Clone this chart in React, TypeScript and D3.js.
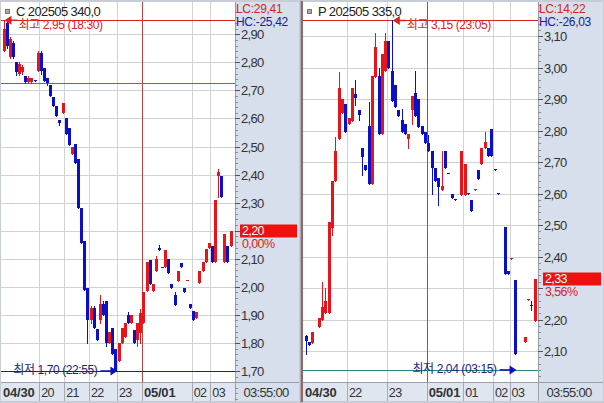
import * as d3 from "d3";

const FONT = "'Liberation Sans', 'Noto Sans CJK KR', sans-serif";
const UP = "#e8141b";
const DOWN = "#0a10c8";
const NAVY = "#1b2580";
const GRID = "#d2d2d2";
const AXIS_BG = "#d6dfeb";
const INK = "#333";

// ---- left: C 202505 340.0 (one bar per slot) ----
const leftOpen = [
  2.84, 2.94, 2.82, 2.87, 2.8, 2.76, 2.765, 2.75, 2.73, 2.73, 2.737, 2.77, 2.835, 2.78, 2.745, 2.72,
  2.675, 2.645, 2.593, 2.62, 2.6, 2.565, 2.475, 2.51, 2.455, 2.28, 2.165, 1.995, 1.88, 1.925, 1.85,
  1.88, 1.94, 1.95, 1.8, 1.855, 1.78, 1.735, 1.8, 1.82, 1.9, 1.87, 1.845, 1.81, 1.835, 1.87, 1.985,
  2.095, 1.985, 2.055, 2.14, 2.072, 2.07, 2.1, 2.01, 1.97, 2.02, 2.085, 1.995, 2.023, 1.94, 1.915,
  1.89, 2.015, 2.055, 2.09, 2.14, 2.145, 2.09, 2.395, 2.395, 2.09, 2.145, 2.145,
];
const leftHigh = [
  2.95, 2.95, 2.89, 2.875, 2.8, 2.8, 2.79, 2.75, 2.75, 2.745, 2.737, 2.84, 2.84, 2.78, 2.745, 2.72,
  2.675, 2.645, 2.593, 2.655, 2.6, 2.565, 2.5, 2.51, 2.455, 2.28, 2.165, 1.995, 1.93, 1.93, 1.85,
  1.97, 1.95, 1.95, 1.84, 1.855, 1.78, 1.8, 1.855, 1.87, 1.91, 1.9, 1.845, 1.87, 1.92, 1.98, 2.09,
  2.095, 2.01, 2.11, 2.15, 2.072, 2.13, 2.1, 2.01, 1.98, 2.055, 2.085, 1.995, 2.025, 1.94, 1.915,
  1.91, 2.055, 2.09, 2.135, 2.155, 2.145, 2.31, 2.42, 2.395, 2.19, 2.145, 2.2,
];
const leftLow = [
  2.84, 2.85, 2.815, 2.815, 2.755, 2.755, 2.76, 2.725, 2.725, 2.725, 2.733, 2.77, 2.76, 2.735, 2.72,
  2.68, 2.645, 2.61, 2.575, 2.62, 2.545, 2.505, 2.475, 2.44, 2.28, 2.155, 1.99, 1.8, 1.87, 1.855,
  1.81, 1.87, 1.9, 1.79, 1.8, 1.76, 1.7, 1.735, 1.8, 1.82, 1.87, 1.87, 1.8, 1.79, 1.8, 1.87, 1.985,
  2.01, 1.985, 2.055, 2.13, 2.07, 2.07, 2.05, 1.995, 1.935, 2.02, 2.07, 1.98, 2.023, 1.925, 1.88,
  1.89, 2.015, 2.055, 2.09, 2.14, 2.09, 2.09, 2.32, 2.32, 2.09, 2.09, 2.145,
];
const leftClose = [
  2.92, 2.86, 2.885, 2.82, 2.765, 2.795, 2.785, 2.73, 2.745, 2.745, 2.733, 2.835, 2.77, 2.735, 2.725,
  2.68, 2.645, 2.61, 2.585, 2.655, 2.545, 2.505, 2.5, 2.44, 2.28, 2.155, 1.99, 1.88, 1.925, 1.855,
  1.81, 1.94, 1.9, 1.8, 1.84, 1.76, 1.7, 1.8, 1.855, 1.87, 1.87, 1.9, 1.8, 1.87, 1.905, 1.98, 2.09,
  2.01, 2.01, 2.1, 2.13, 2.07, 2.13, 2.05, 1.995, 1.935, 2.055, 2.07, 1.98, 2.025, 1.925, 1.88, 1.91,
  2.055, 2.09, 2.135, 2.155, 2.09, 2.31, 2.41, 2.32, 2.19, 2.09, 2.2,
];
const leftTicks = [1.7, 1.8, 1.9, 2.0, 2.1, 2.2, 2.3, 2.4, 2.5, 2.6, 2.7, 2.8, 2.9];
const leftHourLabels = ["04/30", "20", "21", "22", "23", "05/01", "02", "03"];
const leftHourIndex = [0, 12, 20, 28, 37, 45, 61, 67];

// ---- right: P 202505 335.0 (null = no trade in that slot) ----
const rightOpen = [
  2.148, 2.13, 2.125, null, 2.175, 2.2, 2.22, 2.22, 2.49, 2.64, 2.775, 2.855, 2.885, 2.82, 2.83,
  2.915, 2.865, 2.745, 2.69, 2.815, 2.63, 2.97, 2.975, 2.79, 2.99, 3.085, 2.99, 2.945, 2.865, 2.835,
  2.82, 2.775, 2.865, 2.92, 2.9, 2.815, 2.795, 2.76, 2.735, 2.68, 2.65, 2.61, 2.735, 2.667, 2.6,
  2.582, null, 2.595, 2.595, 2.602, 2.58, 2.613, 2.675, 2.695, 2.745, 2.745, 2.805, 2.677, 2.602,
  null, 2.495, 2.355, 2.393, 2.325, null, null, 2.13, 2.263, 2.247, 2.195,
];
const rightHigh = [
  2.15, 2.13, 2.16, null, 2.205, 2.32, 2.3, 2.51, 2.64, 2.78, 2.985, 2.9, 2.885, 2.84, 2.935, 2.96,
  2.865, 2.745, 2.69, 2.89, 2.975, 3.11, 3.0, 3.045, 3.11, 3.085, 3.15, 2.945, 2.865, 2.87, 2.82,
  2.79, 2.91, 2.99, 2.9, 2.815, 2.795, 2.785, 2.735, 2.68, 2.65, 2.735, 2.735, 2.667, 2.6, 2.582,
  null, 2.735, 2.695, 2.602, 2.58, 2.615, 2.675, 2.745, 2.795, 2.745, 2.805, 2.677, 2.602, null,
  2.495, 2.355, 2.395, 2.325, null, null, 2.145, 2.265, 2.26, 2.33,
];
const rightLow = [
  2.09, 2.12, 2.125, null, 2.175, 2.2, 2.22, 2.22, 2.47, 2.64, 2.775, 2.855, 2.795, 2.82, 2.83, 2.88,
  2.835, 2.66, 2.675, 2.63, 2.63, 2.97, 2.79, 2.79, 2.99, 3.0, 2.895, 2.875, 2.845, 2.795, 2.79,
  2.745, 2.82, 2.845, 2.81, 2.79, 2.76, 2.735, 2.6, 2.64, 2.565, 2.61, 2.68, 2.665, 2.585, 2.58,
  null, 2.595, 2.595, 2.6, 2.545, 2.613, 2.645, 2.695, 2.745, 2.72, 2.72, 2.675, 2.6, null, 2.345,
  2.345, 2.393, 2.09, null, null, 2.13, 2.263, 2.23, 2.195,
];
const rightClose = [
  2.132, 2.12, 2.16, null, 2.205, 2.24, 2.26, 2.51, 2.64, 2.735, 2.935, 2.9, 2.795, 2.84, 2.935,
  2.905, 2.85, 2.715, 2.675, 2.63, 2.975, 3.065, 2.79, 3.045, 3.085, 3.0, 2.895, 2.875, 2.845, 2.795,
  2.79, 2.79, 2.91, 2.845, 2.81, 2.79, 2.76, 2.735, 2.68, 2.64, 2.62, 2.625, 2.68, 2.665, 2.585,
  2.58, null, 2.735, 2.695, 2.6, 2.545, 2.615, 2.645, 2.745, 2.765, 2.72, 2.72, 2.675, 2.6, null,
  2.345, 2.345, 2.395, 2.09, null, null, 2.145, 2.265, 2.245, 2.33,
];
const rightTicks = [2.1, 2.2, 2.3, 2.4, 2.5, 2.6, 2.7, 2.8, 2.9, 3.0, 3.1];
const rightHourLabels = ["04/30", "22", "23", "05/01", "01", "02", "03"];
const rightHourIndex = [0, 13, 25, 37, 48, 57, 62];

const fmt = (v: number, d = 2) => v.toFixed(d).replace(".", ",");

type PanelProps = {
  title: string;
  lc: string;
  hc: string;
  open: (number | null)[];
  high: (number | null)[];
  low: (number | null)[];
  close: (number | null)[];
  ticks: number[];
  hourLabels: string[];
  hourIndex: number[];
  hi: { v: number; t: string; i: number };
  lo: { v: number; t: string; i: number };
  last: number;
  pct: string;
  base?: number;
  loColor: string;
  // layout
  left: number;
  plotRight: number;
  right: number;
  barRange: [number, number];
  yRange: [number, number];
};

function Panel(p: PanelProps) {
  const top = 2;
  const dateTop = 382;
  const bottom = 401;
  const x = d3.scaleLinear().domain([0, p.open.length - 1]).range(p.barRange);
  const y = d3
    .scaleLinear()
    .domain([p.ticks[0], p.ticks[p.ticks.length - 1]])
    .range(p.yRange);
  const hourX = (i: number) => (i === 0 ? p.left : x(i - 0.5));
  const minor = d3.range(p.ticks[0] - 0.1, p.ticks[p.ticks.length - 1] + 0.1, 0.02);
  const ax = p.plotRight;

  const yHi = y(p.hi.v);
  const yLo = y(p.lo.v);
  const hiTip = x(p.hi.i) + 1;
  const loTip = x(p.lo.i) + 2;
  const yLast = y(p.last);
  // the price box and its % line cover the tick labels under them
  const hidden = (t: number) => y(t) > yLast - 12 && y(t) < yLast + 22;

  return (
    <g fontFamily={FONT}>
      {/* backgrounds */}
      <rect x={p.left} y={top} width={ax - p.left} height={dateTop - top} fill="#fff" />
      <rect x={p.left} y={dateTop} width={p.right - p.left} height={bottom - dateTop} fill="#dfe6f0" />
      <rect x={ax} y={top} width={p.right - ax} height={bottom - top} fill={AXIS_BG} />

      {/* grid */}
      <g shapeRendering="crispEdges">
        {p.ticks.map((t) => (
          <line key={t} x1={p.left} x2={ax} y1={Math.round(y(t)) + 0.5} y2={Math.round(y(t)) + 0.5} stroke={GRID} />
        ))}
        {p.hourIndex.slice(1).map((i, k) => {
          const hx = Math.round(hourX(i)) + 0.5;
          const isDay = p.hourLabels[k + 1].includes("/");
          return (
            <g key={i}>
              <line x1={hx} x2={hx} y1={top} y2={dateTop} stroke={isDay ? "#b84444" : GRID} />
              <line x1={hx} x2={hx} y1={dateTop} y2={bottom} stroke="#a4a8b0" />
            </g>
          );
        })}
      </g>

      {/* reference lines */}
      <g shapeRendering="crispEdges">
        {p.base !== undefined && (
          <line x1={p.left} x2={ax} y1={Math.round(y(p.base)) + 0.5} y2={Math.round(y(p.base)) + 0.5} stroke="#2a9a2a" />
        )}
        <line x1={p.left} x2={ax} y1={Math.round(yHi) + 0.5} y2={Math.round(yHi) + 0.5} stroke="#d42424" />
        <line x1={p.left} x2={ax} y1={Math.round(yLo) + 0.5} y2={Math.round(yLo) + 0.5} stroke={p.loColor} />
      </g>

      {/* candles */}
      <g shapeRendering="crispEdges">
        {p.open.map((o, i) => {
          if (o == null) return null;
          const c = p.close[i] as number;
          const h = p.high[i] as number;
          const l = p.low[i] as number;
          const col = c > o ? UP : DOWN;
          const cx = Math.round(x(i));
          const yt = Math.round(y(Math.max(o, c)));
          const yb = Math.round(y(Math.min(o, c)));
          return (
            <g key={i}>
              <line x1={cx + 0.5} x2={cx + 0.5} y1={Math.round(y(h))} y2={Math.round(y(l)) + 1} stroke={col} />
              <rect x={cx - 1} y={yt} width={3} height={Math.max(1, yb - yt)} fill={col} />
            </g>
          );
        })}
      </g>

      {/* high / low annotations */}
      <polygon
        points={`${hiTip},${yHi} ${hiTip + 7},${yHi - 4.5} ${hiTip + 7},${yHi + 4.5}`}
        fill="#d42424"
      />
      <line x1={hiTip + 6} x2={hiTip + 13} y1={yHi} y2={yHi} stroke="#d42424" strokeWidth={1.5} />
      <text x={hiTip + 14} y={yHi + 9} fontSize={12} fill="#d42424" letterSpacing={-0.4}>
        {`최고 ${fmt(p.hi.v)} (${p.hi.t})`}
      </text>
      <text x={loTip - 20} y={yLo + 3} fontSize={12} fill={NAVY} textAnchor="end" letterSpacing={-0.4}>
        {`최저 ${fmt(p.lo.v)} (${p.lo.t})`}
      </text>
      <line x1={loTip - 17} x2={loTip - 6} y1={yLo} y2={yLo} stroke={DOWN} strokeWidth={1.5} />
      <polygon points={`${loTip},${yLo} ${loTip - 7},${yLo - 4.5} ${loTip - 7},${yLo + 4.5}`} fill={DOWN} />

      {/* y axis */}
      <line x1={ax + 0.5} x2={ax + 0.5} y1={top} y2={bottom} stroke="#9aa0aa" />
      <g shapeRendering="crispEdges">
        {minor.map((m) => (
          <line key={m} x1={ax} x2={ax + 3} y1={Math.round(y(m)) + 0.5} y2={Math.round(y(m)) + 0.5} stroke="#8a8f98" />
        ))}
      </g>
      {p.ticks.map((t) => (
        <g key={t}>
          <line x1={ax} x2={ax + 5} y1={Math.round(y(t)) + 0.5} y2={Math.round(y(t)) + 0.5} stroke="#555" />
          {!hidden(t) && (
            <text x={ax + 6} y={y(t) + 5} fontSize={13} fill={INK} letterSpacing={-0.7}>
              {fmt(t)}
            </text>
          )}
        </g>
      ))}

      {/* last price box */}
      <rect x={ax + 5} y={Math.round(yLast) - 6.5} width={p.right - ax - 7} height={13} fill="#f01010" />
      <text x={ax + 7} y={yLast + 4.5} fontSize={12.5} fill="#fff" letterSpacing={-0.6}>
        {fmt(p.last)}
      </text>
      <text x={ax + 7} y={yLast + 17.5} fontSize={12.5} fill="#e02020" letterSpacing={-0.6}>
        {p.pct}
      </text>

      {/* header */}
      <rect x={p.left + 4.5} y={9.5} width={4} height={4} fill="#aaa" stroke="#777" />
      <text x={p.left + 15} y={16} fontSize={13} fill="#222" letterSpacing={-0.6}>
        {p.title}
      </text>
      <text x={ax + 1} y={13} fontSize={12} fill="#d42424" letterSpacing={-0.3}>
        {p.lc}
      </text>
      <text x={ax + 1} y={25.5} fontSize={12} fill="#1a1a9a" letterSpacing={-0.3}>
        {p.hc}
      </text>

      {/* date row */}
      <line x1={p.left} x2={p.right} y1={dateTop + 0.5} y2={dateTop + 0.5} stroke="#9aa0aa" />
      {p.hourIndex.map((i, k) => {
        const lab = p.hourLabels[k];
        const bold = lab.includes("/");
        return (
          <text
            key={lab}
            x={hourX(i) + 2}
            y={397}
            fontSize={bold ? 13 : 12.5}
            fontWeight={bold ? "bold" : "normal"}
            fill={INK}
            letterSpacing={bold ? -0.2 : -0.6}
          >
            {lab}
          </text>
        );
      })}
      <text x={ax + 31} y={397} fontSize={13} fill={INK} textAnchor="middle" letterSpacing={-0.7}>
        03:55:00
      </text>
    </g>
  );
}

export default function App() {
  return (
    <svg
      width={604}
      height={403}
      style={{ position: "fixed", left: 0, top: 0, display: "block", background: "#fff" }}
    >
      <rect x={0} y={0} width={604} height={403} fill="#c8ccd4" />
      <Panel
        title="C 202505 340,0"
        lc="LC:29,41"
        hc="HC:-25,42"
        open={leftOpen}
        high={leftHigh}
        low={leftLow}
        close={leftClose}
        ticks={leftTicks}
        hourLabels={leftHourLabels}
        hourIndex={leftHourIndex}
        hi={{ v: 2.95, t: "18:30", i: 0 }}
        lo={{ v: 1.7, t: "22:55", i: 36 }}
        last={2.2}
        pct="0,00%"
        base={2.725}
        loColor={NAVY}
        left={1}
        plotRight={235}
        right={299}
        barRange={[3.5, 230.5]}
        yRange={[371, 34.3]}
      />
      <rect x={300} y={0} width={1} height={403} fill="#a8acb4" />
      <rect x={301} y={1} width={2} height={401} fill="#9a6464" />
      <Panel
        title="P 202505 335,0"
        lc="LC:14,22"
        hc="HC:-26,03"
        open={rightOpen}
        high={rightHigh}
        low={rightLow}
        close={rightClose}
        ticks={rightTicks}
        hourLabels={rightHourLabels}
        hourIndex={rightHourIndex}
        hi={{ v: 3.15, t: "23:05", i: 26 }}
        lo={{ v: 2.04, t: "03:15", i: 63 }}
        last={2.33}
        pct="3,56%"
        loColor="#2a8486"
        left={303}
        plotRight={538}
        right={603}
        barRange={[305.5, 534.5]}
        yRange={[351, 36.2]}
      />
    </svg>
  );
}
